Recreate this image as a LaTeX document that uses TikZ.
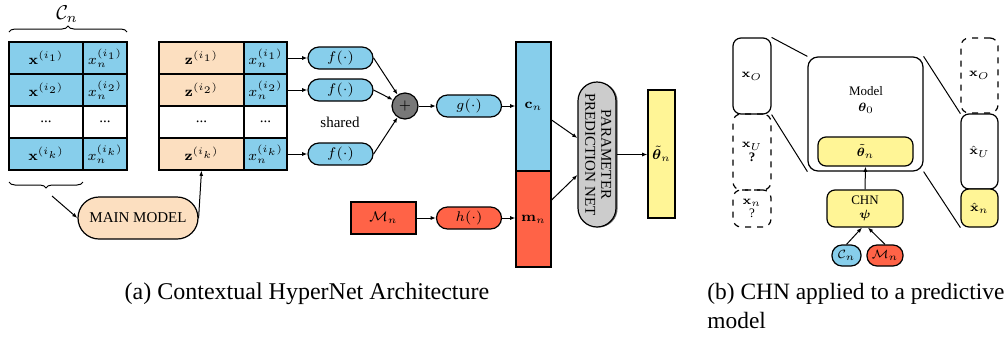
\documentclass[tikz,border=0pt]{standalone}
\usepackage[no-math]{fontspec}
\setmainfont{Liberation Serif}
\usepackage{bm}
\usepackage{graphicx}
\usetikzlibrary{arrows.meta,decorations.pathreplacing,shadows}
\definecolor{cblue}{RGB}{135,206,235}
\definecolor{peach}{RGB}{252,223,192}
\definecolor{tomato}{RGB}{255,99,71}
\definecolor{lyellow}{RGB}{255,245,150}
\definecolor{dgray}{RGB}{120,120,120}
\definecolor{lgray}{RGB}{204,204,204}
\begin{document}
\begin{tikzpicture}[x=0.5pt,y=-0.5pt,
  fa/.style={font=\fontsize{7.5}{9}\selectfont},
  fb/.style={font=\fontsize{6.5}{7.8}\selectfont},
  cell/.style={draw, line width=0.6pt, inner sep=0pt, minimum height=16pt, fa},
  cw/.style={minimum width=37pt},
  cn/.style={minimum width=22pt},
  zw/.style={minimum width=42.5pt},
  zn/.style={minimum width=21.5pt},
  arr/.style={-{Latex[length=2.6pt,width=2pt]}, line width=0.5pt},
  pill/.style={draw, line width=0.6pt, inner sep=0pt, fa},
  fun/.style={pill, minimum width=32.5pt, minimum height=11pt, rounded corners=5.5pt},
  bar/.style={draw, line width=0.6pt, inner sep=0pt, minimum width=17.5pt, fa},
  bbox/.style={draw, line width=0.6pt, inner sep=0pt, rounded corners=4pt, fb, align=center},
  thin/.style={line width=0.5pt}
]
\useasboundingbox (0,0) rectangle (1008,339);

% ---------- left table (context set)
\node[cell,cw,fill=cblue] (x1) at (46,58) {$\mathbf{x}^{(i_1)}$};
\node[cell,cn,fill=cblue] (xn1) at (105,58) {$x_n^{(i_1)}$};
\node[cell,cw,fill=cblue] (x2) at (46,90) {$\mathbf{x}^{(i_2)}$};
\node[cell,cn,fill=cblue] (xn2) at (105,90) {$x_n^{(i_2)}$};
\node[cell,cw,fill=white] (x3) at (46,122) {...};
\node[cell,cn,fill=white] (xn3) at (105,122) {...};
\node[cell,cw,fill=cblue] (x4) at (46,154) {$\mathbf{x}^{(i_k)}$};
\node[cell,cn,fill=cblue] (xn4) at (105,154) {$x_n^{(i_k)}$};

\draw[thin,decorate,decoration={brace,amplitude=3pt}] (9,32) -- (127,32);
\node[font=\fontsize{10}{12}\selectfont] (Cn) at (67,14) {$\mathcal{C}_n$};
\draw[thin,decorate,decoration={brace,amplitude=3pt}] (83,182) -- (9,182);
\coordinate (btip) at (52,196);

% ---------- right table (embeddings)
\node[cell,zw,fill=peach] (z1) at (201.5,58) {$\mathbf{z}^{(i_1)}$};
\node[cell,zn,fill=cblue] (zn1) at (265.5,58) {$x_n^{(i_1)}$};
\node[cell,zw,fill=peach] (z2) at (201.5,90) {$\mathbf{z}^{(i_2)}$};
\node[cell,zn,fill=cblue] (zn2) at (265.5,90) {$x_n^{(i_2)}$};
\node[cell,zw,fill=white] (z3) at (201.5,122) {...};
\node[cell,zn,fill=white] (zn3) at (265.5,122) {...};
\node[cell,zw,fill=peach] (z4) at (201.5,154) {$\mathbf{z}^{(i_k)}$};
\node[cell,zn,fill=cblue] (zn4) at (265.5,154) {$x_n^{(i_k)}$};

% ---------- main model
\node[pill,fill=peach,minimum width=60pt,minimum height=21pt,rounded corners=10.5pt] (main) at (138,218) {MAIN MODEL};
\draw[arr] (btip) -- (main.west);
\draw[arr] (main.east) -- (z4.south);

% ---------- f, +, g
\node[fun,fill=cblue] (f1) at (340.5,58) {$f(\cdot)$};
\node[fun,fill=cblue] (f2) at (340.5,90) {$f(\cdot)$};
\node[fun,fill=cblue] (f3) at (340.5,154) {$f(\cdot)$};
\node[fa] (shared) at (340,122) {shared};
\draw[arr] (zn1.east) -- (f1.west);
\draw[arr] (zn2.east) -- (f2.west);
\draw[arr] (zn4.east) -- (f3.west);
\node[circle,draw,line width=0.6pt,fill=dgray,minimum size=13pt,inner sep=0pt,fa] (plus) at (405,106) {$+$};
\draw[arr] (f1.east) -- (plus);
\draw[arr] (f2.east) -- (plus);
\draw[arr] (f3.east) -- (plus);
\node[fun,fill=cblue] (g) at (469,106) {$g(\cdot)$};
\draw[arr] (plus) -- (g);

% ---------- bars
\node[bar,fill=cblue,minimum height=64.5pt] (cbar) at (533.5,106.5) {$\mathbf{c}_n$};
\node[bar,fill=tomato,minimum height=48pt] (mbar) at (533.5,219) {$\mathbf{m}_n$};
\draw[arr] (g.east) -- (g.east -| cbar.west);

\node[draw,line width=0.6pt,fill=tomato,minimum width=32.5pt,minimum height=16pt,inner sep=0pt,fa] (Mn) at (383.5,218) {$\mathcal{M}_n$};
\node[fun,fill=tomato] (h) at (469,218) {$h(\cdot)$};
\draw[arr] (Mn.east) -- (h.west);
\draw[arr] (h.east) -- (h.east -| mbar.west);

% ---------- parameter prediction net
\node[pill,fill=lgray,minimum width=19pt,minimum height=72.5pt,rounded corners=9.5pt,
      drop shadow={shadow xshift=0.8pt,shadow yshift=-0.2pt,opacity=0.9,fill=black!65}] (param) at (597,154.5)
      {\rotatebox{-90}{\begin{tabular}{@{}c@{}}PARAMETER\\[-1pt]PREDICTION NET\end{tabular}}};
\draw[arr] (cbar.east |- 0,120) -- (param.west |- 0,138);
\draw[arr] (mbar.east |- 0,200) -- (param.west |- 0,175);
\node[bar,fill=lyellow,minimum width=13.5pt,minimum height=64pt] (theta) at (661.5,154) {$\tilde{\bm\theta}_n$};
\draw[arr] (param.east) -- (param.east -| theta.west);

% ---------- part (b)
\node[bbox,minimum width=19pt,minimum height=38pt] (lxO) at (752,76) {$\mathbf{x}_O$};
\node[bbox,dashed,minimum width=19pt,minimum height=38pt] (lxU) at (752,152) {$\mathbf{x}_U$\\[-1pt]\textbf{?}};
\node[bbox,dashed,minimum width=19pt,minimum height=18.5pt] (lxn) at (752,208.5) {$\mathbf{x}_n$\\[-1pt]?};

\node[bbox,minimum width=57.5pt,minimum height=57pt,rounded corners=5pt] (model) at (865.5,114) {};
\node[fb,align=center,inner sep=0pt] (modeltxt) at (866,100) {Model\\$\bm\theta_0$};
\node[bbox,fill=lyellow,minimum width=47.5pt,minimum height=14.5pt] (thetat) at (865.5,151.5) {$\tilde{\bm\theta}_n$};
\node[bbox,fill=lyellow,minimum width=38pt,minimum height=18.5pt] (chn) at (865,208.5) {CHN\\[-1pt]$\bm\psi$};
\node[bbox,fill=cblue,minimum width=14.5pt,minimum height=10.5pt,rounded corners=5pt] (bCn) at (846.5,255.5) {$\mathcal{C}_n$};
\node[bbox,fill=tomato,minimum width=18pt,minimum height=10.5pt,rounded corners=5pt] (bMn) at (885,255.5) {$\mathcal{M}_n$};
\draw[arr] (chn.north) -- (thetat.south);
\draw[arr] (bCn.north) -- ([xshift=-1.5pt]chn.south);
\draw[arr] (bMn.north) -- ([xshift=1.5pt]chn.south);

\node[bbox,dashed,minimum width=18.5pt,minimum height=37.5pt] (rxO) at (979.5,75.5) {$\mathbf{x}_O$};
\node[bbox,minimum width=18.5pt,minimum height=37.5pt] (rxU) at (979.5,151.5) {$\hat{\mathbf{x}}_U$};
\node[bbox,fill=lyellow,minimum width=18.5pt,minimum height=19pt] (rxn) at (979.5,208) {$\hat{\mathbf{x}}_n$};

\draw[thin] (lxO.north east) -- (model.north west);
\draw[thin] (lxO.south east) -- (model.south west);
\draw[thin] (model.north east) -- (rxO.south west);
\draw[thin] (model.south east) -- (rxn.south west);

% ---------- captions
\node[font=\fontsize{12}{14}\selectfont,anchor=base,inner sep=0pt] (capa) at (307,299) {(a) Contextual HyperNet Architecture};
\node[font=\fontsize{11.7}{14}\selectfont,anchor=base west,inner sep=0pt] (capb1) at (707,299) {(b) CHN applied to a predictive};
\node[font=\fontsize{11.7}{14}\selectfont,anchor=base west,inner sep=0pt] (capb2) at (707,328) {model};
\end{tikzpicture}
\end{document}
